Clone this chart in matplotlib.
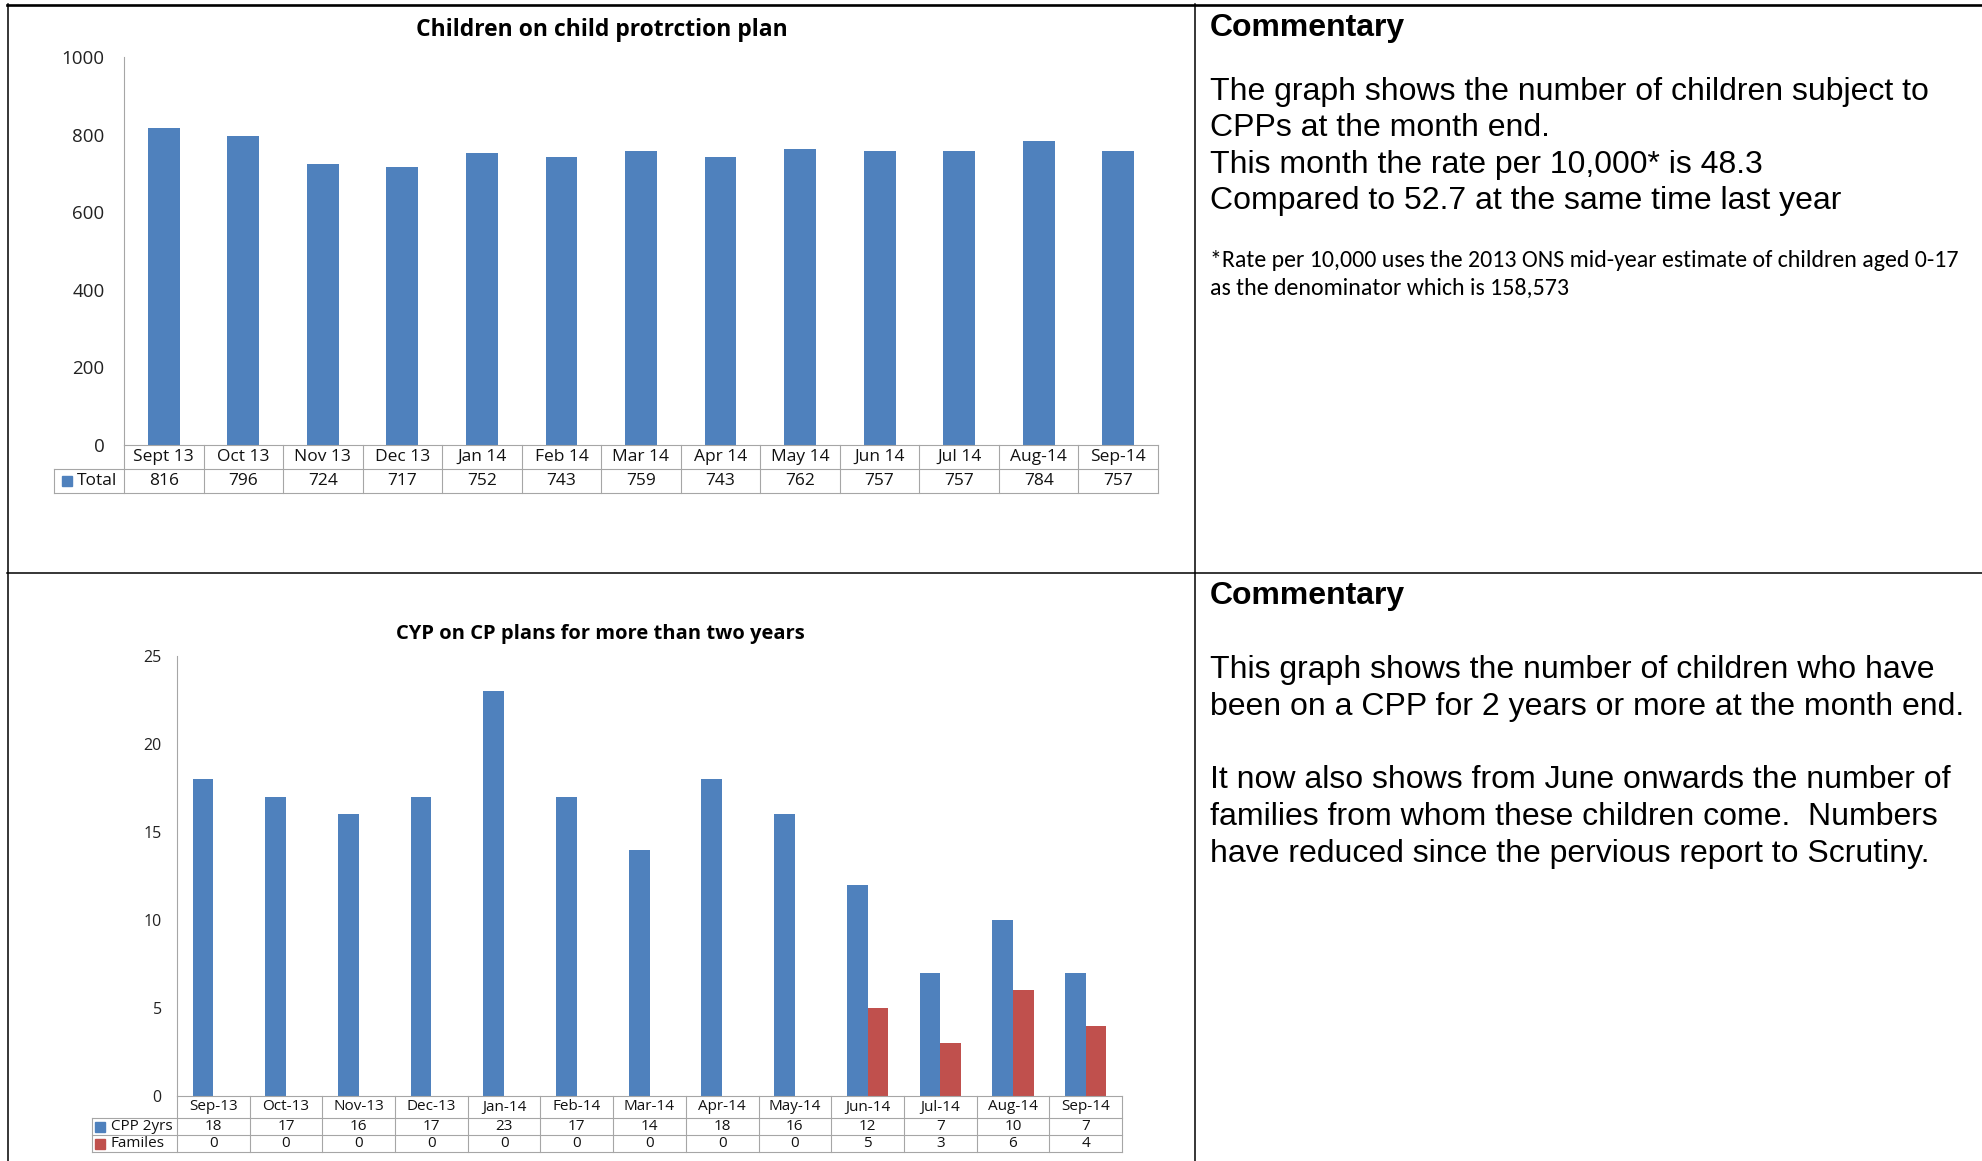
import matplotlib
matplotlib.use('Agg')
import matplotlib.pyplot as plt
from matplotlib import font_manager
from matplotlib.lines import Line2D
import numpy as np

W, H = 1982, 1161

# monthly figures
months_top = ['Sept 13', 'Oct 13', 'Nov 13', 'Dec 13', 'Jan 14', 'Feb 14', 'Mar 14',
              'Apr 14', 'May 14', 'Jun 14', 'Jul 14', 'Aug-14', 'Sep-14']
cpp_total = [816, 796, 724, 717, 752, 743, 759, 743, 762, 757, 757, 784, 757]

months_bottom = ['Sep-13', 'Oct-13', 'Nov-13', 'Dec-13', 'Jan-14', 'Feb-14', 'Mar-14',
                 'Apr-14', 'May-14', 'Jun-14', 'Jul-14', 'Aug-14', 'Sep-14']
cpp_2yrs = [18, 17, 16, 17, 23, 17, 14, 18, 16, 12, 7, 10, 7]
families = [0, 0, 0, 0, 0, 0, 0, 0, 0, 5, 3, 6, 4]

BLUE = '#4F81BD'
RED = '#C0504D'
GREY = '#A6A6A6'

names = {f.name for f in font_manager.fontManager.ttflist}
CHART_FONT = 'Open Sans'
NOTE_FONT = 'Carlito' if 'Carlito' in names else 'Lato'
TEXT_FONT = 'Liberation Sans'

fig = plt.figure(figsize=(W / 100, H / 100), dpi=100)


def px_axes(left, top, right, bottom):
    return fig.add_axes([left / W, 1 - bottom / H, (right - left) / W, (bottom - top) / H])


def panel(box, key_left, row_edges, labels, series, colors, keys, ymax, step,
          bar_w, tick_fs, table_fs, tick_pad, key_pos):
    left, top, right, bottom = box
    n = len(labels)
    x = np.arange(n)

    ax = px_axes(left, top, right, bottom)
    k = len(series)
    for i, (vals, c) in enumerate(zip(series, colors)):
        off = (i - (k - 1) / 2) * bar_w
        ax.bar(x + off, vals, width=bar_w, color=c, zorder=2)
    ax.set_xlim(-0.5, n - 0.5)
    ax.set_ylim(0, ymax)
    ax.set_yticks(np.arange(0, ymax + 1, step))
    ax.set_xticks([])
    for s in ['top', 'right', 'bottom']:
        ax.spines[s].set_visible(False)
    ax.spines['left'].set_color(GREY)
    ax.tick_params(axis='y', length=0, pad=tick_pad, labelsize=tick_fs, labelcolor='#222222')
    for t in ax.get_yticklabels():
        t.set_fontfamily(CHART_FONT)

    # data table under the plot
    cat_w = (right - left) / n
    kx = -0.5 - (left - key_left) / cat_w
    tax = px_axes(key_left, bottom, right, bottom + row_edges[-1])
    tax.set_xlim(kx, n - 0.5)
    tax.set_ylim(row_edges[-1], row_edges[0])
    tax.axis('off')
    lw = 0.8
    tax.plot([-0.5, n - 0.5], [row_edges[0]] * 2, color=GREY, lw=lw, clip_on=False)
    for yy in row_edges[1:]:
        tax.plot([kx, n - 0.5], [yy, yy], color=GREY, lw=lw, clip_on=False)
    for i in range(n + 1):
        tax.plot([-0.5 + i] * 2, [row_edges[0], row_edges[-1]], color=GREY, lw=lw, clip_on=False)
    tax.plot([kx] * 2, [row_edges[1], row_edges[-1]], color=GREY, lw=lw, clip_on=False)

    mid = [(a + b) / 2 for a, b in zip(row_edges[:-1], row_edges[1:])]
    for i, lab in enumerate(labels):
        tax.text(i, mid[0], lab, ha='center', va='center', fontsize=table_fs,
                 family=CHART_FONT, color='#111111')
    sq_off, txt_off, sq_size = key_pos
    for r, (vals, c, name) in enumerate(zip(series, colors, keys)):
        y = mid[r + 1]
        for i, v in enumerate(vals):
            tax.text(i, y, str(v), ha='center', va='center', fontsize=table_fs,
                     family=CHART_FONT, color='#111111')
        tax.plot([kx + sq_off / cat_w], [y], marker='s', ms=sq_size, color=c, clip_on=False)
        tax.text(kx + txt_off / cat_w, y, name, ha='left', va='center', fontsize=table_fs,
                 family=CHART_FONT, color='#111111')
    return ax


# top chart
panel((124, 57, 1158, 445), 54, [0, 24, 48],
      months_top, [cpp_total], [BLUE], ['Total'], 1000, 200,
      0.4, 13.5, 12.5, 14, (13, 23, 7))
fig.text(602 / W, 1 - 30.5 / H, 'Children on child protrction plan', ha='center', va='center',
         fontsize=16.5, weight='bold', family=CHART_FONT)

# bottom chart
panel((177, 656, 1122, 1096), 92, [0, 22, 39, 56],
      months_bottom, [cpp_2yrs, families], [BLUE, RED], ['CPP 2yrs', 'Familes'], 25, 5,
      0.285, 11.5, 11, 11, (8.5, 19, 6.5))
fig.text(600 / W, 1 - 633.5 / H, 'CYP on CP plans for more than two years', ha='center',
         va='center', fontsize=14.5, weight='bold', family=CHART_FONT)

# table borders
def fig_line(xs, ys, lw):
    fig.add_artist(Line2D([v / W for v in xs], [1 - v / H for v in ys], color='black',
                          lw=lw, transform=fig.transFigure))

fig_line([7, W], [4.5, 4.5], 1.9)
fig_line([7.5, 7.5], [4, H], 1.1)
fig_line([1194.5, 1194.5], [4, H], 1.1)
fig_line([7, W], [573, 573], 1.1)

# commentary column
tx = 1210 / W
body = 23


def line(y, s, **kw):
    fig.text(tx, 1 - y / H, s, ha='left', va='baseline', family=TEXT_FONT, **kw)


line(36, 'Commentary', fontsize=body, weight='bold')
line(100, 'The graph shows the number of children subject to', fontsize=body)
line(136.5, 'CPPs at the month end.', fontsize=body)
line(173, 'This month the rate per 10,000* is 48.3', fontsize=body)
line(209.5, 'Compared to 52.7 at the same time last year', fontsize=body)
fig.text(tx, 1 - 267 / H, '*Rate per 10,000 uses the 2013 ONS mid-year estimate of children aged 0-17',
         ha='left', va='baseline', family=NOTE_FONT, fontsize=17.2)
fig.text(tx, 1 - 295 / H, 'as the denominator which is 158,573',
         ha='left', va='baseline', family=NOTE_FONT, fontsize=17.2)

line(604, 'Commentary', fontsize=body, weight='bold')
line(678, 'This graph shows the number of children who have', fontsize=body)
line(715, 'been on a CPP for 2 years or more at the month end.', fontsize=body)
line(788, 'It now also shows from June onwards the number of', fontsize=body)
line(825, 'families from whom these children come.  Numbers', fontsize=body)
line(862, 'have reduced since the pervious report to Scrutiny.', fontsize=body)

fig.savefig('out.png', dpi=100, facecolor='white')
